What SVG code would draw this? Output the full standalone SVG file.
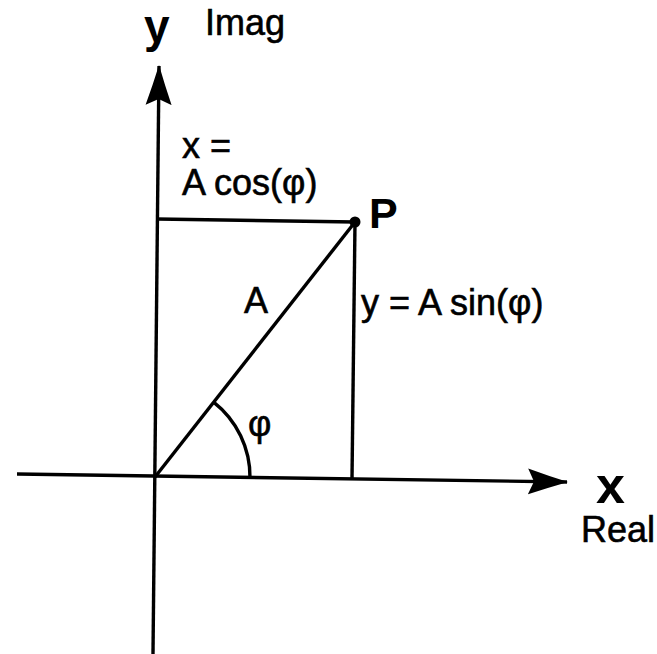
<svg xmlns="http://www.w3.org/2000/svg" width="657" height="654" viewBox="0 0 657 654">
<style>
.ln{stroke:#000;stroke-width:3.4;fill:none;stroke-linecap:butt}
.t{font-family:"Liberation Sans",Arial,sans-serif;font-size:36px;fill:#000;stroke:#000;stroke-width:0.6}
.b{font-family:"Liberation Sans",Arial,sans-serif;font-weight:bold;fill:#000}
</style>
<defs>
<marker id="ah" viewBox="0 0 40 28" refX="39" refY="14" markerWidth="40" markerHeight="28" markerUnits="userSpaceOnUse" orient="auto">
<path d="M40,14 Q20,8 0,1 L6,14 L0,27 Q20,20 40,14 Z" fill="#000"/>
</marker>
</defs>
<rect width="657" height="654" fill="#fff"/>
<g id="connectors">
<line id="y-axis" class="ln" x1="153" y1="654" x2="159" y2="66" marker-end="url(#ah)"/>
<line id="x-axis" class="ln" x1="17" y1="474" x2="567" y2="482" marker-end="url(#ah)"/>
<line id="proj-x" class="ln" x1="157" y1="219" x2="355" y2="222"/>
<line id="proj-y" class="ln" x1="355" y1="222" x2="352" y2="479"/>
<line id="vector" class="ln" x1="155" y1="477" x2="355" y2="222"/>
<path id="angle-arc" class="ln" d="M213.6,402.2 A95,95 0 0 1 250,478"/>
</g>
<g id="point-P">
<circle cx="355" cy="222" r="5.5" fill="#000"/>
<text class="b" x="369" y="228" font-size="43">P</text>
</g>
<g id="y-label">
<text class="b" x="144" y="42" font-size="46">y</text>
<text class="t" x="205" y="35">Imag</text>
</g>
<g id="x-label">
<text class="b" x="596" y="503" font-size="52">x</text>
<text class="t" x="581" y="542" font-size="32">Real</text>
</g>
<g id="cos-label">
<text class="t" x="182" y="158">x =</text>
<text class="t" x="182" y="195">A cos(φ)</text>
</g>
<g id="sin-label">
<text class="t" x="361" y="315">y = A sin(φ)</text>
</g>
<g id="A-label">
<text class="t" x="244" y="313">A</text>
</g>
<g id="phi-label">
<text class="t" x="248" y="436">φ</text>
</g>
</svg>
